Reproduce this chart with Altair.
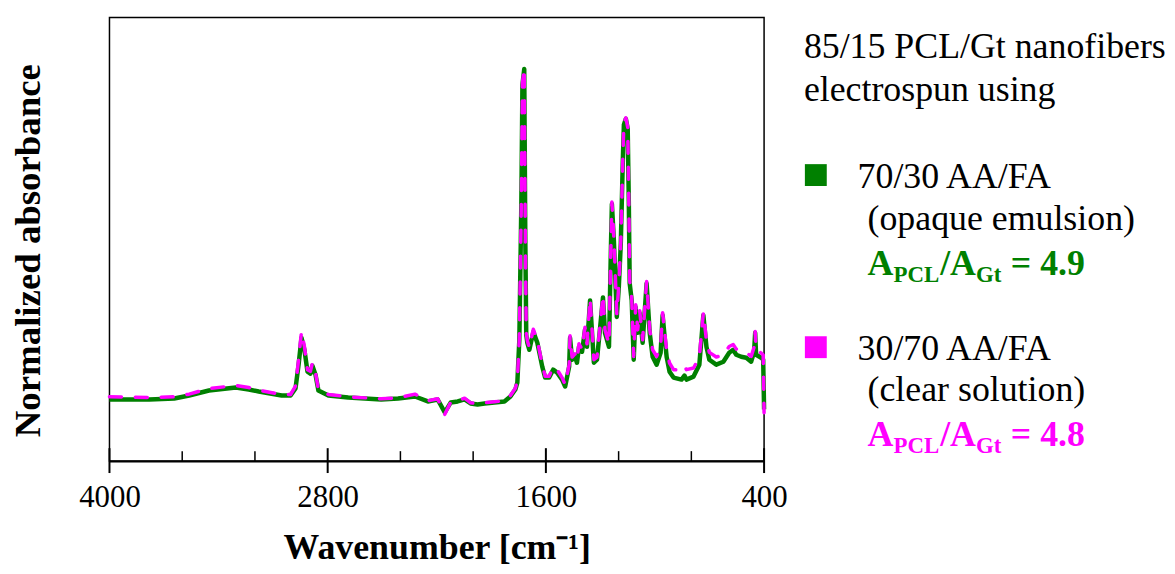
import altair as alt
import pandas as pd

# ---------------- data ----------------
wavenumber = [4000, 3781, 3644, 3562, 3453, 3305, 3234, 3179, 3053, 3004,
              2977, 2960, 2944, 2928, 2911, 2895, 2884, 2867, 2851, 2796,
              2687, 2506, 2413, 2320, 2249, 2195, 2156, 2123, 2085, 2047,
              2014, 1976, 1937, 1883, 1828, 1795, 1768, 1757, 1746, 1735,
              1729, 1719, 1713, 1708, 1702, 1691, 1669, 1647, 1620, 1604,
              1582, 1560, 1538, 1511, 1494, 1472, 1467, 1456, 1440, 1429,
              1418, 1401, 1385, 1374, 1357, 1336, 1319, 1303, 1286, 1275,
              1253, 1243, 1237, 1226, 1210, 1199, 1188, 1177, 1171, 1160,
              1150, 1144, 1139, 1128, 1117, 1106, 1095, 1084, 1068, 1046,
              1029, 1013, 991, 969, 958, 947, 936, 920, 898, 854,
              838, 827, 788, 756, 734, 717, 701, 663, 624, 592,
              570, 553, 526, 498, 471, 455, 449, 444, 416, 405,
              400]

abs_70_30 = [0.000, 0.000, 0.003, 0.012, 0.027, 0.036, 0.030, 0.024, 0.012, 0.012,
             0.033, 0.105, 0.186, 0.150, 0.084, 0.078, 0.102, 0.075, 0.027, 0.012,
             0.006, 0.000, 0.003, 0.009, -0.006, 0.000, -0.039, -0.009, -0.006, 0.000,
             -0.012, -0.015, -0.012, -0.009, -0.006, 0.009, 0.030, 0.051, 0.180, 0.590,
             0.949, 0.997, 0.479, 0.195, 0.171, 0.150, 0.204, 0.171, 0.099, 0.066,
             0.066, 0.090, 0.081, 0.060, 0.039, 0.099, 0.186, 0.120, 0.129, 0.111,
             0.159, 0.144, 0.210, 0.159, 0.299, 0.111, 0.120, 0.210, 0.308, 0.201,
             0.159, 0.440, 0.590, 0.479, 0.249, 0.338, 0.470, 0.719, 0.829, 0.847,
             0.817, 0.599, 0.350, 0.299, 0.120, 0.278, 0.201, 0.260, 0.171, 0.350,
             0.201, 0.129, 0.105, 0.141, 0.254, 0.189, 0.129, 0.084, 0.066, 0.060,
             0.072, 0.060, 0.069, 0.105, 0.254, 0.159, 0.120, 0.105, 0.114, 0.141,
             0.150, 0.135, 0.129, 0.126, 0.114, 0.144, 0.201, 0.135, 0.126, 0.120,
             -0.030]

abs_30_70 = [0.008, 0.006, 0.008, 0.016, 0.033, 0.042, 0.036, 0.028, 0.015, 0.015,
             0.040, 0.120, 0.205, 0.160, 0.090, 0.085, 0.110, 0.080, 0.030, 0.015,
             0.008, 0.002, 0.005, 0.016, -0.004, 0.002, -0.045, -0.008, -0.004, 0.004,
             -0.010, -0.013, -0.010, -0.007, -0.004, 0.012, 0.034, 0.056, 0.185, 0.595,
             0.955, 1.000, 0.490, 0.200, 0.178, 0.156, 0.212, 0.178, 0.105, 0.070,
             0.070, 0.098, 0.090, 0.066, 0.045, 0.105, 0.192, 0.128, 0.138, 0.120,
             0.168, 0.152, 0.218, 0.168, 0.305, 0.120, 0.128, 0.218, 0.315, 0.210,
             0.168, 0.446, 0.596, 0.486, 0.258, 0.345, 0.478, 0.725, 0.835, 0.850,
             0.822, 0.606, 0.358, 0.306, 0.130, 0.286, 0.210, 0.268, 0.180, 0.356,
             0.212, 0.150, 0.130, 0.160, 0.262, 0.205, 0.150, 0.110, 0.090, 0.088,
             0.100, 0.090, 0.095, 0.128, 0.262, 0.178, 0.142, 0.128, 0.135, 0.160,
             0.166, 0.152, 0.146, 0.142, 0.130, 0.158, 0.205, 0.150, 0.140, 0.134,
             -0.040]

major_ticks = [4000, 2800, 1600, 400]
minor_ticks = [3600, 3200, 2400, 2000, 1200, 800]

legend_header = ["85/15 PCL/Gt nanofibers", "electrospun using"]
series_names = ["70/30 AA/FA", "30/70 AA/FA"]
series_notes = ["(opaque emulsion)", "(clear solution)"]
ratio_values = ["4.9", "4.8"]
colors = ["#008000", "#ff00ff"]

x_title = "Wavenumber [cm\u207b\u00b9]"
y_title = "Normalized absorbance"

# ---------------- layout ----------------
W, H = 658, 446
FONT = "Liberation Serif"

xscale = alt.Scale(domain=[4000, 400], nice=False, zero=False)
yscale = alt.Scale(domain=[-0.186, 1.153], nice=False, zero=False)

df_a = pd.DataFrame({"wn": wavenumber, "a": abs_70_30})
df_b = pd.DataFrame({"wn": wavenumber, "a": abs_30_70})

x_axis = alt.Axis(values=major_ticks, format="d", ticks=False, tickSize=0,
                  labelFontSize=31, labelFont=FONT, labelColor="black",
                  labelPadding=22, labelFlush=False, grid=False,
                  domainColor="black", domainWidth=2,
                  title=x_title, titleFont=FONT, titleFontSize=36,
                  titleFontWeight="bold", titleColor="black",
                  titleBaseline="alphabetic", titleX=W / 2, titleY=98)
y_axis = alt.Axis(labels=False, ticks=False, domain=False, grid=False,
                  title=y_title, titleFont=FONT, titleFontSize=37,
                  titleFontWeight="bold", titleColor="black",
                  titleAngle=-90, titleAlign="center",
                  titleBaseline="alphabetic", titleX=-70, titleY=234)

line_a = alt.Chart(df_a).mark_line(
    color=colors[0], strokeWidth=4.5, strokeJoin="round"
).encode(
    x=alt.X("wn:Q", scale=xscale, axis=x_axis),
    y=alt.Y("a:Q", scale=yscale, axis=y_axis),
)

line_b = alt.Chart(df_b).mark_line(
    color=colors[1], strokeWidth=3.5, strokeDash=[12, 14], strokeCap="round",
    strokeJoin="round"
).encode(
    x=alt.X("wn:Q", scale=xscale),
    y=alt.Y("a:Q", scale=yscale),
)

major = alt.Chart(pd.DataFrame({"wn": major_ticks})).mark_rule(
    color="black", strokeWidth=2
).encode(
    x=alt.X("wn:Q", scale=xscale),
    y=alt.value(H - 13), y2=alt.value(H + 12),
)
minor = alt.Chart(pd.DataFrame({"wn": minor_ticks})).mark_rule(
    color="black", strokeWidth=1.5
).encode(
    x=alt.X("wn:Q", scale=xscale),
    y=alt.value(H - 10), y2=alt.value(H),
)


def label(s, x, y, size=36, color="black", weight="normal"):
    return alt.Chart(alt.Data(values=[{"t": s}])).mark_text(
        font=FONT, fontSize=size, color=color, fontWeight=weight,
        align="left", baseline="alphabetic"
    ).encode(x=alt.value(x), y=alt.value(y), text="t:N")


texts = [
    label(legend_header[0], 698, 41),
    label(legend_header[1], 698, 84),
]
rows = [(171, 214, 259, 266, 158.5), (344, 386, 431, 438, 331.5)]
squares = []
for i, (yn, ynote, yr, ysub, ysq) in enumerate(rows):
    texts.append(label(series_names[i], 752, yn))
    texts.append(label(series_notes[i], 762, ynote))
    texts.append(label("A", 762, yr, color=colors[i], weight="bold"))
    texts.append(label("PCL", 788, ysub, size=23, color=colors[i], weight="bold"))
    texts.append(label("/A", 835, yr, color=colors[i], weight="bold"))
    texts.append(label("Gt", 871, ysub, size=23, color=colors[i], weight="bold"))
    texts.append(label("= " + ratio_values[i], 906, yr, color=colors[i], weight="bold"))
    squares.append(
        alt.Chart(alt.Data(values=[{"s": series_names[i]}])).mark_point(
            shape="square", filled=True, opacity=1, size=484, color=colors[i]
        ).encode(x=alt.value(710), y=alt.value(ysq))
    )

chart = alt.layer(line_a, line_b, major, minor, *squares, *texts).properties(
    width=W, height=H,
    autosize=alt.AutoSizeParams(type="none"),
    padding={"left": 102, "top": 8, "right": 405, "bottom": 106},
).configure_view(stroke="black", strokeWidth=1.5)

chart.save("out.html", embed_options={"renderer": "svg", "actions": False})
